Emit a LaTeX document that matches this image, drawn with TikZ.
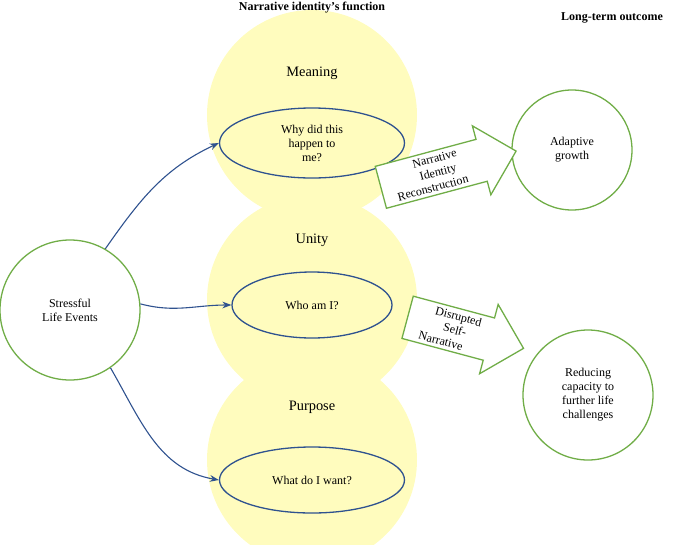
\documentclass[tikz,border=0pt]{standalone}
\usepackage{fontspec}
\setmainfont{Liberation Serif}
\usetikzlibrary{shapes.arrows,shapes.geometric,arrows.meta}
\definecolor{bl}{RGB}{47,82,143}
\definecolor{gr}{RGB}{112,173,71}
\definecolor{yl}{RGB}{255,252,190}
\begin{document}
\begin{tikzpicture}[x=1pt,y=-1pt,
 yel/.style={circle,fill=yl,minimum size=210pt,inner sep=0},
 bel/.style={ellipse,draw=bl,line width=1.3pt,align=center,font=\large,inner sep=0},
 gc/.style={circle,draw=gr,line width=1.3pt,align=center,font=\large,inner sep=0},
 lab/.style={font=\Large},
 blk/.style={single arrow,draw=gr,line width=1.3pt,fill=white,single arrow head extend=14pt,align=center,font=\large,inner sep=3pt,shape border uses incircle=false},
 ar/.style={-{Stealth[length=9pt]},draw=bl,line width=1.1pt}]
\useasboundingbox (0,0) rectangle (685,544);
\begin{scope}
\clip (0,0) rectangle (685,544);
\node[yel] (ym) at (312,115) {};
\node[yel] (yu) at (312,300) {};
\node[yel] (yp) at (312,460) {};
\end{scope}
\node[font=\large\bfseries] (h1) at (312,8) {Narrative identity's function};
\node[font=\large\bfseries] (h2) at (612,18) {Long-term outcome};
\node[lab] (lm) at (312,73) {Meaning};
\node[lab] (lu) at (312,240) {Unity};
\node[lab] (lp) at (312,407) {Purpose};
\node[bel,minimum width=185pt,minimum height=70pt] (e1) at (312,143) {Why did this\\happen to\\me?};
\node[bel,minimum width=160pt,minimum height=66pt] (e2) at (312,305) {Who am I?};
\node[bel,minimum width=185pt,minimum height=66pt] (e3) at (312,480) {What do I want?};
\node[gc,minimum size=140pt] (s) at (70,310) {Stressful\\Life Events};
\node[gc,minimum size=120pt] (a) at (572,150) {Adaptive\\growth};
\node[gc,minimum size=130pt] (r) at (588,395) {Reducing\\capacity to\\further life\\challenges};
\node[blk,rotate=15,minimum height=140pt] (b1) at (438,172) {Narrative\\Identity\\Reconstruction\hspace*{18pt}};
\node[blk,rotate=-15,minimum height=120pt] (b2) at (455,330) {Disrupted\\Self-\\Narrative\hspace*{22pt}};
\draw[ar] (s.60) to[out=55,in=205] (e1.west);
\draw[ar] (s.5) to[out=-15,in=180] (e2.west);
\draw[ar] (s.-55) to[out=-60,in=170] (e3.west);
\end{tikzpicture}
\end{document}
